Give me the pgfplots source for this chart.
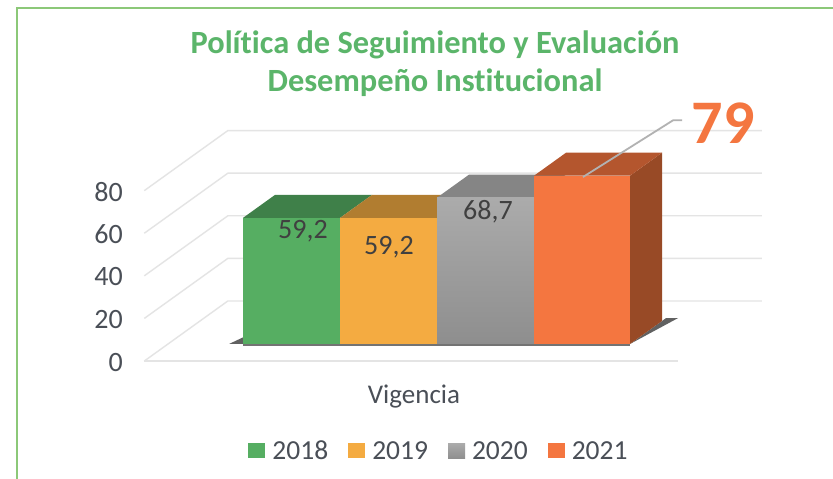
\documentclass[border=0pt]{standalone}
\usepackage{fontspec}
\setmainfont{Carlito}[Ligatures=NoCommon]
\usepackage{pgfplots}
\pgfplotsset{compat=1.18}
\definecolor{gridc}{HTML}{E4E4E4}
\definecolor{txt}{HTML}{4A4F57}
\definecolor{ttl}{HTML}{5BB56A}
\definecolor{frm}{HTML}{8CC878}
\definecolor{gF}{HTML}{56AE62}\definecolor{gT}{HTML}{3F8049}
\definecolor{oF}{HTML}{F4AB41}\definecolor{oT}{HTML}{B17D30}
\definecolor{sF}{HTML}{ABABAB}\definecolor{sB}{HTML}{8E8E8E}\definecolor{sT}{HTML}{858585}
\definecolor{rF}{HTML}{F47640}\definecolor{rT}{HTML}{B4562E}\definecolor{rS}{HTML}{984A26}
\begin{document}
\begin{tikzpicture}[x=1pt,y=1pt]
\path[use as bounding box] (0,0) rectangle (833,479);
\fill[white] (0,0) rectangle (833,479);
\draw[frm,line width=2pt] (17,0) -- (17,471) -- (833,471);
\node[ttl,font=\fontsize{32.4}{36}\selectfont\bfseries] at (435,434) {Política de Seguimiento y Evaluación};
\node[ttl,font=\fontsize{32.4}{36}\selectfont\bfseries] at (435,396) {Desempeño Institucional};
\begin{axis}[
  at={(168pt,135pt)}, anchor=origin,
  x={(1pt,0pt)}, y={(32pt,23pt)}, z={(0pt,2.13pt)},
  xmin=168, xmax=702, ymin=-0.74, ymax=1.87, zmin=0, zmax=80,
  clip=false,
  axis line style={draw=none},
  tick style={draw=none},
  xtick=\empty, ytick=\empty, ztick={0,20,40,60,80},
  zticklabel pos=left,
  zticklabel style={font=\fontsize{28}{30}\selectfont, text=txt, anchor=east, xshift=-18pt, yshift=-1pt, /pgf/number format/assume math mode=true},
  legend columns=4,
  legend cell align=left,
  legend style={at={(axis cs:439,0,-50.2)}, anchor=center, draw=none, fill=none, inner sep=0pt,
    font=\fontsize{27.5}{30}\selectfont, text=txt,
    /tikz/column 1/.style={column sep=5pt},/tikz/column 2/.style={column sep=18pt},
    /tikz/column 3/.style={column sep=5pt},/tikz/column 4/.style={column sep=18pt},
    /tikz/column 5/.style={column sep=5pt},/tikz/column 6/.style={column sep=18pt},
    /tikz/column 7/.style={column sep=5pt}},
  legend image code/.code={\path[#1,draw=none] (0pt,-7.5pt) rectangle (17pt,7.5pt);},
]
% grid: side walls and back wall at each tick
\pgfplotsset{gl/.style={gridc,line width=1.4pt,no marks,forget plot}}
\addplot3[gl] coordinates {(168,-0.74,0)(168,1.87,0)(702,1.87,0)};
\addplot3[gl] coordinates {(168,-0.74,0)(702,-0.74,0)};
\addplot3[gl] coordinates {(168,-0.74,20)(168,1.87,20)(702,1.87,20)};
\addplot3[gl] coordinates {(168,-0.74,40)(168,1.87,40)(702,1.87,40)};
\addplot3[gl] coordinates {(168,-0.74,60)(168,1.87,60)(702,1.87,60)};
\addplot3[gl] coordinates {(168,-0.74,80)(168,1.87,80)(702,1.87,80)};
% shadows
\pgfplotsset{sh/.style={fill=black!62,draw=none,no marks,forget plot}}
\addplot3[sh] coordinates {(630,0,0)(642,1.13,0)(630,1.13,0)};
\addplot3[sh] coordinates {(229,0,0)(243,0,0)(234,0.3,0)};
\addplot3[fill=black!55,draw=none,no marks,forget plot] coordinates {(243,0,0)(630,0,0)(630,0,-1)(243,0,-1)};
% 2018
\addplot3[fill=gT,draw=none,no marks,forget plot] coordinates {(243,0,59.2)(340,0,59.2)(340,1,59.2)(243,1,59.2)};
\addplot3[fill=gF,draw=none,no marks] coordinates {(243,0,0)(340,0,0)(340,0,59.2)(243,0,59.2)};
\addlegendentry{2018}
% 2019
\addplot3[fill=oT,draw=none,no marks,forget plot] coordinates {(340,0,59.2)(437,0,59.2)(437,1,59.2)(340,1,59.2)};
\addplot3[fill=oF,draw=none,no marks] coordinates {(340,0,0)(437,0,0)(437,0,59.2)(340,0,59.2)};
\addlegendentry{2019}
% 2020
\addplot3[fill=sT,draw=none,no marks,forget plot] coordinates {(437,0,68.7)(534,0,68.7)(534,1,68.7)(437,1,68.7)};
\addplot3[draw=none,no marks,shade,top color=sF,bottom color=sB] coordinates {(437,0,0)(534,0,0)(534,0,68.7)(437,0,68.7)};
\addlegendentry{2020}
% 2021
\addplot3[fill=rS,draw=none,no marks,forget plot] coordinates {(630,0,0)(630,1,0)(630,1,79)(630,0,79)};
\addplot3[fill=rT,draw=none,no marks,forget plot] coordinates {(534,0,79)(630,0,79)(630,1,79)(534,1,79)};
\addplot3[fill=rF,draw=none,no marks] coordinates {(534,0,0)(630,0,0)(630,0,79)(534,0,79)};
\addlegendentry{2021}
% leader
\addplot3[color=black!30,line width=1.8pt,no marks,forget plot] coordinates {(583,0,78.4)(673,0,105)(682,0,105)};
\end{axis}
\begin{scope}[font=\fontsize{28}{30}\selectfont,txt]
\node[text=black!75] at (303,248) {59,2};
\node[text=black!75] at (389,232) {59,2};
\node[text=black!75] at (488,267) {68,7};
\node[font=\fontsize{27}{30}\selectfont] at (414,82) {Vigencia};
\end{scope}
\node[rF,font=\fontsize{62}{64}\selectfont\bfseries] at (723,356) {79};
\end{tikzpicture}
\end{document}
